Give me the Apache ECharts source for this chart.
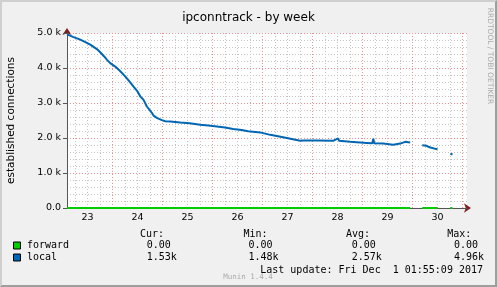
<!DOCTYPE html>
<html><head><meta charset="utf-8">
<script src="https://cdn.jsdelivr.net/npm/echarts@6/dist/echarts.min.js"></script>
<style>
html,body{margin:0;padding:0;background:#f0f0f0;}
#c{position:absolute;left:0;top:0;width:497px;height:287px;}
#frame{position:absolute;left:0;top:0;width:497px;height:287px;box-sizing:border-box;border-top:2px solid #cfcfcf;border-left:2px solid #cfcfcf;border-right:2px solid #9e9e9e;border-bottom:2px solid #9e9e9e;pointer-events:none;}
</style></head>
<body><div id="c"></div><div id="frame"></div>
<script>
// hours since Nov 23 00:00
const START_HOUR = 2.16;
const END_HOUR = 194.16;
const times = [2.2, 5, 8.5, 11, 13.5, 16.5, 18.1, 20, 21.3, 22.9,
  25.3, 27.5, 30.1, 32.5, 34.1, 36, 37.3, 38.9, 40.5, 42.9,
  43.7, 45.5, 47.7, 49.3, 51.7, 56.5, 61, 66.1, 70, 74.1,
  78, 81.9, 86, 89.1, 94.9, 99.7, 105.9, 110, 114.1, 115.5,
  122.1, 129.9, 132.3, 132.8, 138.1, 146.1, 148.7, 149.2, 149.6, 153.9,
  158.7, 162.1, 164.5, 166.9, 168.5, 172.7, 174.6, 175.6, 176.6, 179,
  180, 181, 186.2, 187.2];
const local = [4960, 4890, 4810, 4740, 4660, 4540, 4450, 4330, 4240, 4140,
  4040, 3920, 3760, 3590, 3470, 3330, 3190, 3090, 2900, 2720,
  2640, 2570, 2510, 2480, 2470, 2440, 2420, 2380, 2360, 2330,
  2300, 2260, 2230, 2190, 2160, 2090, 2020, 1970, 1920, 1930,
  1930, 1920, 1990, 1920, 1890, 1860, 1850, 1980, 1850, 1840,
  1810, 1840, 1890, 1870, null, 1790, 1780, 1750, 1730, 1690,
  1680, null, 1550, 1530];
const forward = [0, 0, 0, 0, 0, 0, 0, 0, 0, 0,
  0, 0, 0, 0, 0, 0, 0, 0, 0, 0,
  0, 0, 0, 0, 0, 0, 0, 0, 0, 0,
  0, 0, 0, 0, 0, 0, 0, 0, 0, 0,
  0, 0, 0, 0, 0, 0, 0, 0, 0, 0,
  0, 0, 0, 0, null, 0, 0, 0, 0, 0,
  0, null, 0, 0];
const dayLabels = ['23', '24', '25', '26', '27', '28', '29', '30'];
const dayLabelHours = [12, 36, 60, 84, 108, 132, 156, 180];
const midnightHours = [24, 48, 72, 96, 120, 144, 168, 192];
const quarterHours = [6, 12, 18, 30, 36, 42, 54, 60, 66, 78, 84, 90, 102, 108, 114,
  126, 132, 138, 150, 156, 162, 174, 180, 186];
const seriesNames = ['forward', 'local'];
const seriesColors = ['#00cc00', '#0066b3'];
const curVals = ['0.00', '1.53k'];
const minVals = ['0.00', '1.48k'];
const avgVals = ['0.00', '2.57k'];
const maxVals = ['0.00', '4.96k'];
const titleText = 'ipconntrack - by week';
const yName = 'established connections';
const lastUpdate = 'Last update: Fri Dec  1 01:55:09 2017';
const version = 'Munin 1.4.4';
const sideText = 'RRDTOOL / TOBI OETIKER';

const zip = (a) => times.map((t, i) => [t, a[i]]);
const mono = '"DejaVu Sans Mono", monospace';
const sans = '"DejaVu Sans", sans-serif';

const gridLeft = 67, gridTop = 33, gridRight = 30, gridBottom = 79;
const minorColor = '#c4c4c4';
const majorColor = '#ef8f8f';

const graphics = [];
function txt(x, y, s, opts) {
  graphics.push(Object.assign({type: 'text', x: x, y: y, silent: true,
    style: Object.assign({text: s, font: '10px ' + mono, fill: '#000', textVerticalAlign: 'middle'}, opts || {})}));
}
txt(140, 234, 'Cur:'); txt(243.5, 234, 'Min:'); txt(346, 234, 'Avg:'); txt(447.3, 234, 'Max:');
const rowY = [245.5, 257.5];
seriesNames.forEach((n, i) => {
  graphics.push({type: 'rect', silent: true, shape: {x: 13.5, y: rowY[i] - 3.5, width: 7, height: 7},
    style: {fill: seriesColors[i], stroke: '#000', lineWidth: 1}});
  txt(27, rowY[i], n);
  txt(146.7, rowY[i], curVals[i]);
  txt(248.5, rowY[i], minVals[i]);
  txt(351.7, rowY[i], avgVals[i]);
  txt(454, rowY[i], maxVals[i]);
});
txt(483, 270, lastUpdate, {textAlign: 'right'});
txt(248, 277, version, {font: '7.5px ' + mono, fill: '#aaaaaa', textAlign: 'center'});
graphics.push({type: 'text', x: 11, y: 120.5, rotation: Math.PI / 2, silent: true,
  style: {text: yName, font: '10.5px ' + sans, fill: '#000', textAlign: 'center', textVerticalAlign: 'middle'}});
graphics.push({type: 'text', x: 489.5, y: 56, rotation: -Math.PI / 2, silent: true,
  style: {text: sideText, font: '7.5px ' + sans, fill: '#aaaaaa', textAlign: 'center', textVerticalAlign: 'middle'}});

const chart = echarts.init(document.getElementById('c'), null, {renderer: 'canvas'});
const xBase = {type: 'value', min: START_HOUR, max: END_HOUR, splitLine: {show: false}, axisTick: {show: false}};
const yBase = {type: 'value', min: 0, max: 5000, interval: 1000};
chart.setOption({
  animation: false,
  backgroundColor: '#f0f0f0',
  title: {text: titleText, left: 'center', top: 7, textStyle: {fontFamily: sans, fontSize: 12, fontWeight: 'normal', color: '#000'}},
  grid: {left: gridLeft, top: gridTop, right: gridRight, bottom: gridBottom, show: true, backgroundColor: '#ffffff', borderWidth: 0},
  xAxis: [
    Object.assign({}, xBase, {
      position: 'bottom', z: 1,
      axisLine: {show: true, lineStyle: {color: '#555', width: 1}},
      axisLabel: {customValues: dayLabelHours, margin: 5, fontFamily: sans, fontSize: 9.5, color: '#000',
        formatter: (v) => dayLabels[dayLabelHours.indexOf(v)]}
    }),
    Object.assign({}, xBase, {
      position: 'bottom', z: 0,
      axisLine: {show: true, symbol: ['none', 'arrow'], symbolSize: [7, 7], symbolOffset: [0, 4], lineStyle: {color: '#7f1f1f', width: 1}},
      axisLabel: {show: false}
    })
  ],
  yAxis: [
    Object.assign({}, yBase, {
      position: 'left', z: 1,
      axisLine: {show: true, lineStyle: {color: '#555', width: 1}},
      axisTick: {show: true, length: 4, lineStyle: {color: '#555'}},
      axisLabel: {margin: 6, fontFamily: sans, fontSize: 9.5, color: '#000',
        formatter: (v) => v === 0 ? '0.0' : (v / 1000).toFixed(1) + ' k'},
      splitLine: {show: true, lineStyle: {color: majorColor, type: [1, 2], width: 1}},
      minorTick: {show: false, splitNumber: 5},
      minorSplitLine: {show: true, lineStyle: {color: minorColor, type: [1, 2], width: 1}}
    }),
    Object.assign({}, yBase, {
      position: 'left', z: 0,
      axisLine: {show: true, symbol: ['none', 'arrow'], symbolSize: [7, 7], symbolOffset: [0, 5], lineStyle: {color: '#7f1f1f', width: 1}},
      axisTick: {show: false}, axisLabel: {show: false}, splitLine: {show: false}
    })
  ],
  series: [
    {
      type: 'line', name: 'grid-minor', data: [], silent: true, z: 0,
      markLine: {silent: true, symbol: ['none', 'none'], label: {show: false},
        lineStyle: {color: minorColor, type: [1, 2], width: 1},
        data: quarterHours.map((h) => ({xAxis: h}))}
    },
    {
      type: 'line', name: 'grid-major', data: [], silent: true, z: 0,
      markLine: {silent: true, symbol: ['none', 'none'], label: {show: false},
        lineStyle: {color: majorColor, type: [1, 2], width: 1},
        data: midnightHours.map((h) => ({xAxis: h}))}
    },
    {
      type: 'line', name: seriesNames[1], data: zip(local), showSymbol: false, connectNulls: false, z: 5,
      lineStyle: {color: seriesColors[1], width: 2}, itemStyle: {color: seriesColors[1]}
    },
    {
      type: 'line', name: seriesNames[0], data: zip(forward), showSymbol: false, connectNulls: false, z: 6,
      lineStyle: {color: seriesColors[0], width: 2}, itemStyle: {color: seriesColors[0]}
    }
  ],
  graphic: graphics
});
</script>
</body></html>
